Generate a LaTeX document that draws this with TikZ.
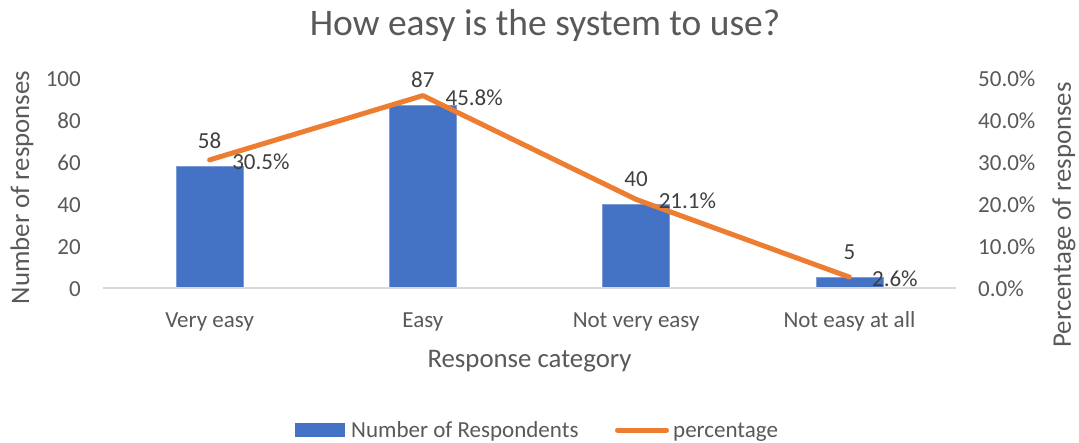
\documentclass[tikz,border=0pt]{standalone}
\usepackage{fontspec}
\setmainfont{Carlito}
\definecolor{barblue}{HTML}{4472C4}
\definecolor{lineorange}{HTML}{ED7D31}
\definecolor{axisgray}{HTML}{D9D9D9}
\definecolor{textgray}{HTML}{595959}
\definecolor{labelgray}{HTML}{404040}
\tikzset{
  ticklabel/.style={text=textgray,inner sep=0pt,font=\fontsize{23}{27}\selectfont},
  axistitle/.style={text=textgray,inner sep=0pt,font=\fontsize{26.8}{31}\selectfont},
  numlabel/.style={text=labelgray,inner sep=0pt,anchor=base,yshift=18pt,font=\fontsize{23}{27}\selectfont},
  pctlabel/.style={text=labelgray,inner sep=0pt,anchor=base west,xshift=22.5pt,yshift=-9.5pt,font=\fontsize{23}{27}\selectfont},
  bar/.style={fill=barblue,draw=barblue!70!white,line width=0.6pt},
}
\begin{document}
\begin{tikzpicture}[x=1pt,y=-1pt]
\useasboundingbox[fill=white] (0,0) rectangle (1079,442);
% title
\node[text=textgray,inner sep=0pt,anchor=base,font=\fontsize{37.5}{44}\selectfont] (title) at (545,35) {How easy is the system to use?};
% bars
\draw[bar] (176.1,288) rectangle (243.1,166.2);
\draw[bar] (389.4,288) rectangle (456.4,105.3);
\draw[bar] (602.6,288) rectangle (669.6,204);
\draw[bar] (815.9,288) rectangle (882.9,277.5);
% category axis
\draw[axisgray,line width=1.5pt] (103,288) -- (956,288);
% left ticks
\node[ticklabel,anchor=base east] (l0) at (81,296) {0};
\node[ticklabel,anchor=base east] (l20) at (81,254) {20};
\node[ticklabel,anchor=base east] (l40) at (81,212) {40};
\node[ticklabel,anchor=base east] (l60) at (81,170) {60};
\node[ticklabel,anchor=base east] (l80) at (81,128) {80};
\node[ticklabel,anchor=base east] (l100) at (81,86) {100};
% right ticks
\node[ticklabel,anchor=base west] (r0) at (978,296) {0.0\%};
\node[ticklabel,anchor=base west] (r10) at (978,254) {10.0\%};
\node[ticklabel,anchor=base west] (r20) at (978,212) {20.0\%};
\node[ticklabel,anchor=base west] (r30) at (978,170) {30.0\%};
\node[ticklabel,anchor=base west] (r40) at (978,128) {40.0\%};
\node[ticklabel,anchor=base west] (r50) at (978,86) {50.0\%};
% categories
\node[ticklabel,anchor=base] (c1) at (209.6,327) {Very easy};
\node[ticklabel,anchor=base] (c2) at (422.9,327) {Easy};
\node[ticklabel,anchor=base] (c3) at (636.1,327) {Not very easy};
\node[ticklabel,anchor=base] (c4) at (849.4,327) {Not easy at all};
% axis titles
\node[axistitle,anchor=base] (xtitle) at (529.5,367) {Response category};
\node[axistitle,rotate=90] (ytitle) at (22,187.5) {Number of responses};
\node[axistitle,rotate=90] (y2title) at (1064,215) {Percentage of responses};
% percentage line
\coordinate (p1) at (209.6,159.9);
\coordinate (p2) at (422.9,95.6);
\coordinate (p3) at (636.1,199.4);
\coordinate (p4) at (849.4,277.1);
\draw[lineorange,line width=5pt,line cap=round,line join=round] (p1) -- (p2) -- (p3) -- (p4);
% data labels
\node[numlabel] (n1) at (209.6,166.2) {58};
\node[numlabel] (n2) at (422.9,105.3) {87};
\node[numlabel] (n3) at (636.1,204) {40};
\node[numlabel] (n4) at (849.4,277.5) {5};
\node[pctlabel] (q1) at (p1) {30.5\%};
\node[pctlabel] (q2) at (p2) {45.8\%};
\node[pctlabel] (q3) at (p3) {21.1\%};
\node[pctlabel] (q4) at (p4) {2.6\%};
% legend
\fill[barblue] (295,423.3) rectangle (345,436.7);
\node[ticklabel,anchor=base west] (leg1) at (351,437) {Number of Respondents};
\coordinate (legA) at (617.5,430);
\coordinate (legB) at (666.5,430);
\draw[lineorange,line width=5pt,line cap=round] (legA) -- (legB);
\node[ticklabel,anchor=base west] (leg2) at (673,437) {percentage};
\end{tikzpicture}
\end{document}
